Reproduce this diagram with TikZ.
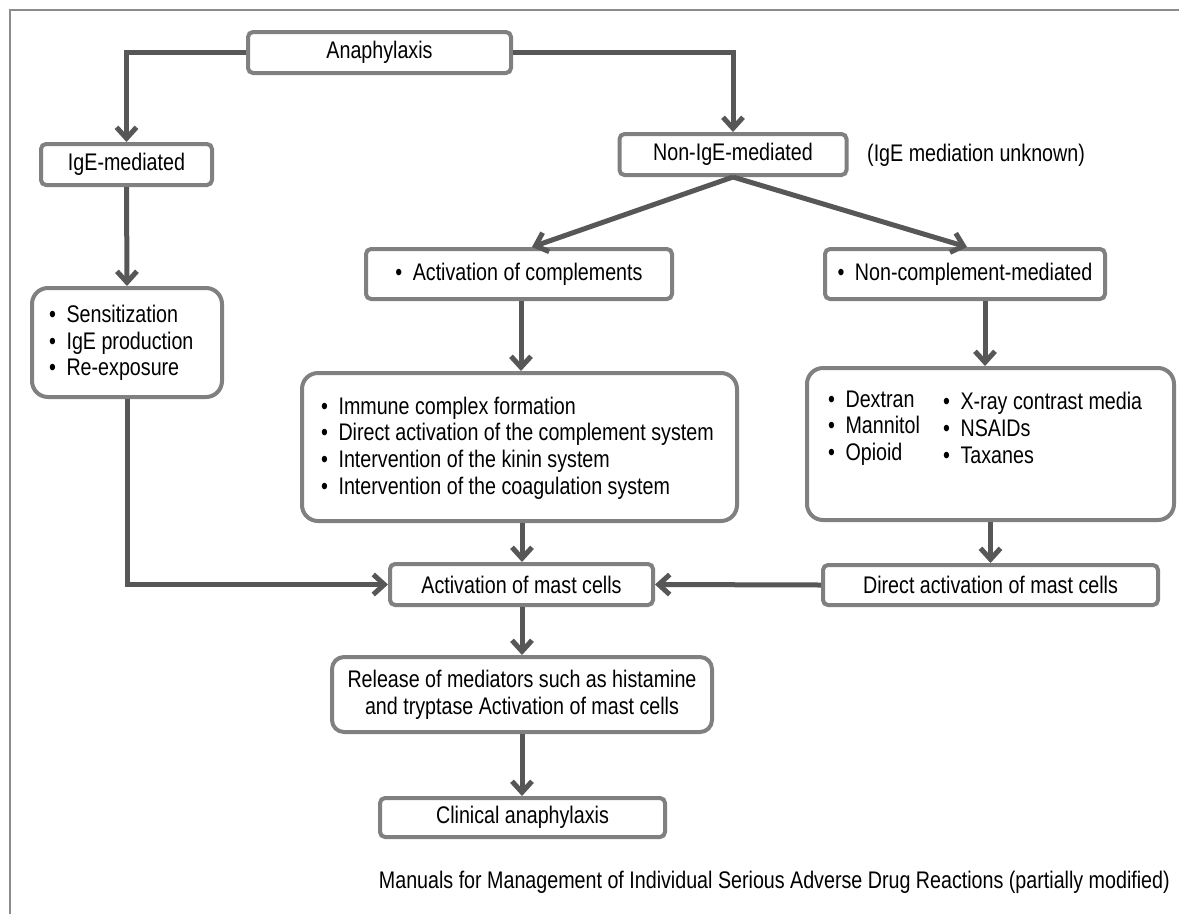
\documentclass[tikz,border=0pt]{standalone}
\usepackage{fontspec}
\setmainfont{Liberation Sans}[FakeStretch=0.82]
\usetikzlibrary{arrows.meta,calc}
\definecolor{boxgray}{HTML}{808080}
\definecolor{arrgray}{HTML}{575757}
\definecolor{framegray}{HTML}{8C8C8C}
\newcommand\bul{•\hspace{5pt} }
\tikzset{
  box/.style={draw=boxgray, line width=4pt, fill=white, rounded corners=5pt, inner sep=0pt, font=\fontsize{24}{26.7}\selectfont},
  listbox/.style={box, rounded corners=16pt},
  txt/.style={inner sep=0pt, align=left, font=\fontsize{24}{26.7}\selectfont},
  arr/.style={draw=arrgray, line width=5pt, -{Straight Barb[length=11pt,width=20pt]}},
}
\begin{document}
\begin{tikzpicture}[x=1pt,y=-1pt]
\useasboundingbox (0,0) rectangle (1179,914);
\fill[white] (0,0) rectangle (1179,914);
\draw[framegray, line width=2pt] (10,914) -- (10,10) -- (1179,10);

\node[box, minimum width=263pt, minimum height=41pt] (ana) at (379.5,52.5) {Anaphylaxis};
\node[box, minimum width=171pt, minimum height=41pt] (ige) at (126.5,164.5) {IgE-mediated};
\node[box, minimum width=227pt, minimum height=41pt] (nonige) at (733,154.5) {Non-IgE-mediated};
\node[txt, anchor=west] (unk) at (867,155) {(IgE mediation unknown)};
\node[box, minimum width=306pt, minimum height=50pt] (actc) at (519,274) {\bul Activation of complements};
\node[box, minimum width=280pt, minimum height=50pt] (noncomp) at (965,274) {\bul Non-complement-mediated};
\node[listbox, minimum width=190pt, minimum height=109pt] (sens) at (127,342.5) {};
\node[txt, anchor=west] (senst) at (49,343) {\bul Sensitization\\\bul IgE production\\\bul Re-exposure};
\node[listbox, minimum width=435pt, minimum height=148pt] (imm) at (519.5,447) {};
\node[txt, anchor=west] (immt) at (321,448) {\bul Immune complex formation\\\bul Direct activation of the complement system\\\bul Intervention of the kinin system\\\bul Intervention of the coagulation system};
\node[listbox, minimum width=367pt, minimum height=152pt] (drugs) at (990.5,444) {};
\node[txt, anchor=west] (drugsa) at (828,428) {\bul Dextran\\\bul Mannitol\\\bul Opioid};
\node[txt, anchor=west] (drugsb) at (943,428) {\bul X-ray contrast media\\\bul NSAIDs\\\bul Taxanes};
\node[box, minimum width=263pt, minimum height=41pt] (mast) at (521.5,584.5) {Activation of mast cells};
\node[box, minimum width=335pt, minimum height=40pt] (direct) at (990.5,585) {Direct activation of mast cells};
\node[box, rounded corners=12pt, minimum width=380pt, minimum height=75pt, align=center] (rel) at (522,694.5) {Release of mediators such as histamine\\and tryptase Activation of mast cells};
\node[box, minimum width=285pt, minimum height=39pt] (clin) at (522.5,817.5) {Clinical anaphylaxis};
\node[txt, anchor=east] (src) at (1170,882) {Manuals for Management of Individual Serious Adverse Drug Reactions (partially modified)};

\draw[arr] (ana.west) -| (ige.north);
\draw[arr] (ana.east) -| (nonige.north);
\draw[arr] (nonige.south) -- ([xshift=13pt]actc.north);
\draw[arr] (nonige.south) -- ([xshift=2pt]noncomp.north);
\draw[arr] (ige.south) -- (sens.north);
\draw[arr] ([xshift=2pt]actc.south) -- ([xshift=1.5pt]imm.north);
\draw[arr] ([xshift=20pt]noncomp.south) -- ([xshift=-5.5pt]drugs.north);
\draw[arr] (drugs.south) -- (direct.north);
\draw[arr] (sens.south) |- (mast.west);
\draw[arr] ([xshift=2.5pt]imm.south) -- ([xshift=0.5pt]mast.north);
\draw[arr] (direct.west) -- (mast.east);
\draw[arr] ([xshift=0.5pt]mast.south) -- (rel.north);
\draw[arr] (rel.south) -- ([xshift=-0.5pt]clin.north);
\end{tikzpicture}
\end{document}
